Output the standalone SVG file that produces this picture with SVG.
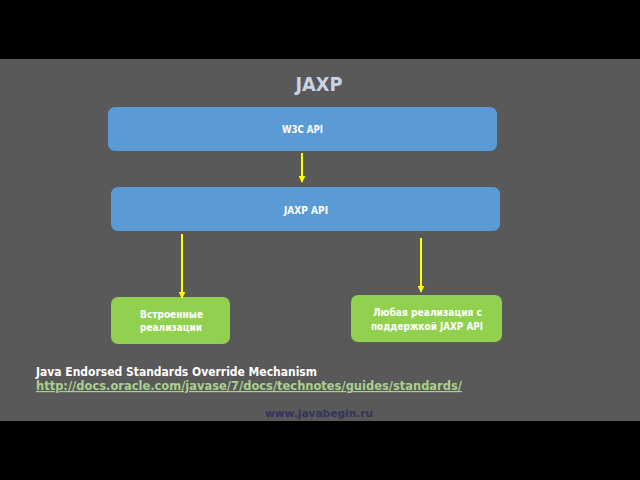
<svg xmlns="http://www.w3.org/2000/svg" width="640" height="480" viewBox="0 0 640 480">
<defs>
<style>
.t{font-family:"DejaVu Sans","Liberation Sans",sans-serif;font-weight:bold;fill:#ffffff;text-anchor:middle}
.blue{fill:#5b9bd5}
.green{fill:#92d050}
.c{stroke:#ffff00;stroke-width:2;fill:none}
</style>
<marker id="ah" viewBox="0 0 10 10" refX="9" refY="5" markerWidth="3.5" markerHeight="3.5" orient="auto" markerUnits="strokeWidth">
<path d="M0,0 L10,5 L0,10 Z" fill="#ffff00"/>
</marker>
</defs>
<rect x="0" y="0" width="640" height="480" fill="#000000"/>
<rect x="0" y="59" width="640" height="362" fill="#595959"/>
<text x="319" y="91" class="t" style="font-size:19px;fill:#c6d4e6" textLength="47" lengthAdjust="spacingAndGlyphs">JAXP</text>
<g id="w3c">
<rect class="blue" x="108" y="107" width="389" height="44" rx="7"/>
<text class="t" x="302.5" y="133" style="font-size:11px" textLength="41" lengthAdjust="spacingAndGlyphs">W3C API</text>
</g>
<g id="jaxpapi">
<rect class="blue" x="111" y="187" width="389" height="44" rx="7"/>
<text class="t" x="306" y="214" style="font-size:11px" textLength="44" lengthAdjust="spacingAndGlyphs">JAXP API</text>
</g>
<g id="builtin">
<rect class="green" x="111" y="297" width="119" height="47" rx="7"/>
<text class="t" x="171.5" y="318" style="font-size:11px" textLength="63" lengthAdjust="spacingAndGlyphs">Встроенные</text>
<text class="t" x="171" y="331" style="font-size:11px" textLength="62" lengthAdjust="spacingAndGlyphs">реализации</text>
</g>
<g id="anyimpl">
<rect class="green" x="351" y="295" width="151" height="47" rx="7"/>
<text class="t" x="427.5" y="316" style="font-size:11px" textLength="109" lengthAdjust="spacingAndGlyphs">Любая реализация с</text>
<text class="t" x="427" y="330" style="font-size:11px" textLength="112" lengthAdjust="spacingAndGlyphs">поддержкой JAXP API</text>
</g>
<g id="connectors">
<line class="c" x1="302" y1="153" x2="302" y2="182" marker-end="url(#ah)"/>
<line class="c" x1="182" y1="234" x2="182" y2="298" marker-end="url(#ah)"/>
<line class="c" x1="421" y1="238" x2="421" y2="292" marker-end="url(#ah)"/>
</g>
<text x="36" y="376" style="font-family:'DejaVu Sans','Liberation Sans',sans-serif;font-weight:bold;font-size:12px;fill:#ffffff" textLength="281" lengthAdjust="spacingAndGlyphs">Java Endorsed Standards Override Mechanism</text>
<text x="36" y="390" style="font-family:'DejaVu Sans','Liberation Sans',sans-serif;font-weight:bold;font-size:12px;fill:#a9d08e;text-decoration:underline" textLength="426" lengthAdjust="spacingAndGlyphs">http://docs.oracle.com/javase/7/docs/technotes/guides/standards/</text>
<text x="265" y="417" style="font-family:'DejaVu Sans','Liberation Sans',sans-serif;font-weight:bold;font-size:11px;fill:#33335c" textLength="108" lengthAdjust="spacingAndGlyphs">www.javabegin.ru</text>
</svg>
